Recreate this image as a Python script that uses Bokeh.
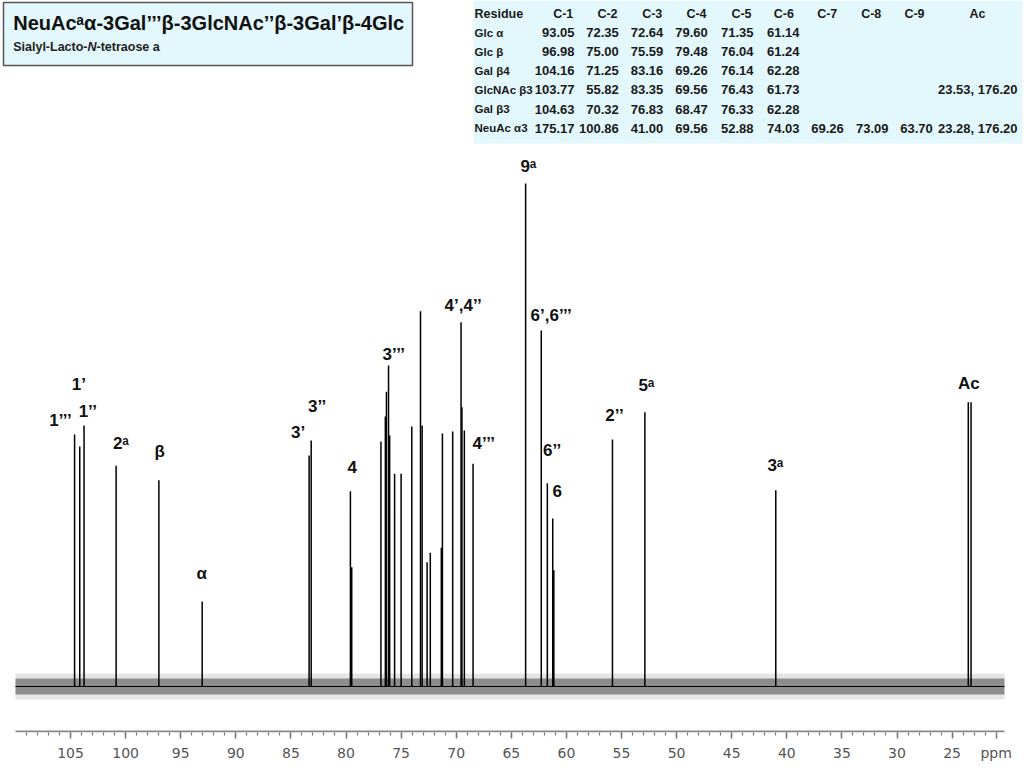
from bokeh.plotting import figure
from bokeh.models import Range1d, FixedTicker
from bokeh.core.properties import value
from bokeh.embed import file_html
from bokeh.resources import INLINE

# ---------------- data ----------------
# 13C peaks: chemical shift (ppm) and relative intensity (9a = 100)
peak_ppm = [104.63, 104.16, 103.77, 100.86, 96.98, 93.05, 83.35, 83.16, 79.60, 79.48,
            76.83, 76.43, 76.33, 76.14, 76.04, 75.59, 75.00, 74.03, 73.24, 73.09,
            72.64, 72.35, 71.35, 71.25, 70.32, 69.56, 69.48, 69.26, 68.47,
            63.70, 62.28, 61.73, 61.24, 61.14, 55.82, 52.88, 41.00, 23.53, 23.28]
peak_int = [50.1, 47.7, 51.9, 43.9, 41.0, 16.9, 45.9, 48.9, 38.8, 23.7,
            48.7, 53.7, 58.6, 63.8, 49.9, 42.3, 42.3, 51.7, 74.6, 51.9,
            24.7, 26.6, 27.6, 50.3, 50.7, 72.4, 55.5, 50.9, 44.3,
            100.0, 70.8, 40.4, 33.4, 23.1, 49.1, 54.5, 39.0, 56.5, 56.5]

# peak assignment labels
label_text = ["1’", "1’’’", "1’’", "2ᵃ", "β", "α", "3’", "3’’", "4", "3’’’", "4’,4’’",
              "4’’’", "9ᵃ", "6’,6’’’", "6’’", "6", "2’’", "5ᵃ", "3ᵃ", "Ac"]

# table of assigned shifts
table_header = ["Residue", "C-1", "C-2", "C-3", "C-4", "C-5", "C-6", "C-7", "C-8", "C-9", "Ac"]
residues = ["Glc α", "Glc β", "Gal β4", "GlcNAc β3", "Gal β3", "NeuAc α3"]
c1 = [93.05, 96.98, 104.16, 103.77, 104.63, 175.17]
c2 = [72.35, 75.00, 71.25, 55.82, 70.32, 100.86]
c3 = [72.64, 75.59, 83.16, 83.35, 76.83, 41.00]
c4 = [79.60, 79.48, 69.26, 69.56, 68.47, 69.56]
c5 = [71.35, 76.04, 76.14, 76.43, 76.33, 52.88]
c6 = [61.14, 61.24, 62.28, 61.73, 62.28, 74.03]
c7 = [None, None, None, None, None, 69.26]
c8 = [None, None, None, None, None, 73.09]
c9 = [None, None, None, None, None, 63.70]
ac = ["", "", "", "23.53, 176.20", "", "23.28, 176.20"]

major_ticks = [105, 100, 95, 90, 85, 80, 75, 70, 65, 60, 55, 50, 45, 40, 35, 30, 25]
minor_ticks = list(range(22, 110))
unit_tick = 21
unit_label = "ppm"

title_text = "NeuAcᵃα-3Gal’’’β-3GlcNAc’’β-3Gal’β-4Glc"

# ---------------- layout helpers (page pixel -> data) ----------------
PX_PPM = 11.02   # pixels per ppm
PX_INT = 5.03    # pixels per intensity unit
def X(wx):
    return 105 - (wx - 70) / PX_PPM
def Y(wy):
    return (686 - wy) / PX_INT

FW, FH = 1024, 732
p = figure(frame_width=FW, frame_height=FH, output_backend="svg", toolbar_location=None,
           x_range=Range1d(X(0), X(FW)), y_range=Range1d(Y(FH), Y(0)),
           y_axis_location=None, min_border=0, title=None)
p.outline_line_color = None
p.grid.visible = False
p.background_fill_color = "white"
p.border_fill_color = "white"

# axis
ax = p.xaxis[0]
ax.ticker = FixedTicker(ticks=major_ticks + [unit_tick], minor_ticks=minor_ticks)
ax.major_label_overrides = {unit_tick: unit_label}
ax.axis_line_color = None
ax.major_tick_in = 0
ax.major_tick_out = 6
ax.minor_tick_in = 0
ax.minor_tick_out = 3
ax.major_tick_line_color = "#777777"
ax.minor_tick_line_color = "#777777"
ax.major_tick_line_width = 1.5
ax.minor_tick_line_width = 1.2
ax.major_label_text_font = "DejaVu Sans"
ax.major_label_text_font_size = "14px"
ax.major_label_text_color = "#555555"
ax.major_label_standoff = 6

x_left, x_right = X(15), X(1004)
y_axis = Y(FH) + 0.2
p.segment(x0=[x_left], x1=[x_right], y0=[y_axis], y1=[y_axis], line_color="#888888", line_width=2)

# noisy baseline approximated as a band
p.varea(x=[x_left, x_right], y1=[-2.6, -2.6], y2=[2.6, 2.6], fill_color="black", fill_alpha=0.10)
p.varea(x=[x_left, x_right], y1=[-1.6, -1.6], y2=[1.6, 1.6], fill_color="#222222", fill_alpha=0.45)
p.line(x=[x_left, x_right], y=[0, 0], line_color="black", line_width=1)

# peaks
p.segment(x0=peak_ppm, x1=peak_ppm, y0=[0] * len(peak_ppm), y1=peak_int,
          line_color="black", line_width=1.5)

# peak labels
lab_px = [(78.3, 384), (60, 420), (87.3, 410.7), (120.5, 443), (159.3, 450.7), (201.3, 572.7),
          (297.7, 431.7), (316.7, 406), (351.7, 466), (393.3, 353.5), (462.7, 305),
          (483.3, 443), (528, 166), (550.7, 315.4), (551.7, 450), (556.7, 490.7),
          (614, 415), (646, 385), (775, 465.3), (968.3, 383.3)]
p.text(x=[X(a) for a, b in lab_px], y=[Y(b) for a, b in lab_px], text=label_text,
       text_font=value("Liberation Sans"), text_font_style="bold", text_font_size="17px",
       text_color="#111111", text_align="center", text_baseline="middle")

# title box
p.quad(left=[X(3)], right=[X(412)], top=[Y(2)], bottom=[Y(65)],
       fill_color="#E3F8FC", line_color="#555555", line_width=1.5)
p.text(x=[X(12.7)], y=[Y(22)], text=[title_text], text_font=value("Liberation Sans"),
       text_font_style="bold", text_font_size="20px", text_color="#111111",
       text_align="left", text_baseline="middle")
sub_font = "12.5px"
p.text(x=[X(12.7)], y=[Y(46)], text=["Sialyl-Lacto-"], text_font=value("Liberation Sans"),
       text_font_style="bold", text_font_size=sub_font, text_color="#222222",
       text_align="left", text_baseline="middle")
p.text(x=[X(87.0)], y=[Y(46)], text=["N"], text_font=value("Liberation Sans"),
       text_font_style="bold italic", text_font_size=sub_font, text_color="#222222",
       text_align="left", text_baseline="middle")
p.text(x=[X(96.0)], y=[Y(46)], text=["-tetraose a"], text_font=value("Liberation Sans"),
       text_font_style="bold", text_font_size=sub_font, text_color="#222222",
       text_align="left", text_baseline="middle")

# table
p.quad(left=[X(473)], right=[X(1022)], top=[Y(0)], bottom=[Y(143)],
       fill_color="#E3F8FC", line_color=None)
row_y = [32.3, 51, 70, 89.3, 108.7, 127.7]
head_y = 13.3
col_right = [574, 618.3, 662.7, 707.3, 753, 799, 843.3, 888, 932.3, 1017]
col_head = [562.7, 607, 651.7, 696, 741, 783.3, 826.7, 870.7, 914, 977]
base = dict(text_font=value("Liberation Sans"), text_font_style="bold",
            text_color="#1a1a1a", text_baseline="middle")
p.text(x=[X(474)], y=[Y(head_y)], text=[table_header[0]], text_align="left",
       text_font_size="12.5px", **base)
p.text(x=[X(c) for c in col_head], y=[Y(head_y)] * len(col_head), text=table_header[1:],
       text_align="center", text_font_size="12.5px", **base)
p.text(x=[X(474)] * len(residues), y=[Y(r) for r in row_y], text=residues,
       text_align="left", text_font_size="11.5px", **base)
cols = [c1, c2, c3, c4, c5, c6, c7, c8, c9]
xs, ys, ts = [], [], []
for ci, col in enumerate(cols):
    for ri, v in enumerate(col):
        if v is not None:
            xs.append(X(col_right[ci])); ys.append(Y(row_y[ri])); ts.append(f"{v:.2f}")
for ri, s in enumerate(ac):
    if s:
        xs.append(X(col_right[9])); ys.append(Y(row_y[ri])); ts.append(s)
p.text(x=xs, y=ys, text=ts, text_align="right", text_font_size="13px", **base)

open("out.html", "w").write(file_html(p, INLINE))
